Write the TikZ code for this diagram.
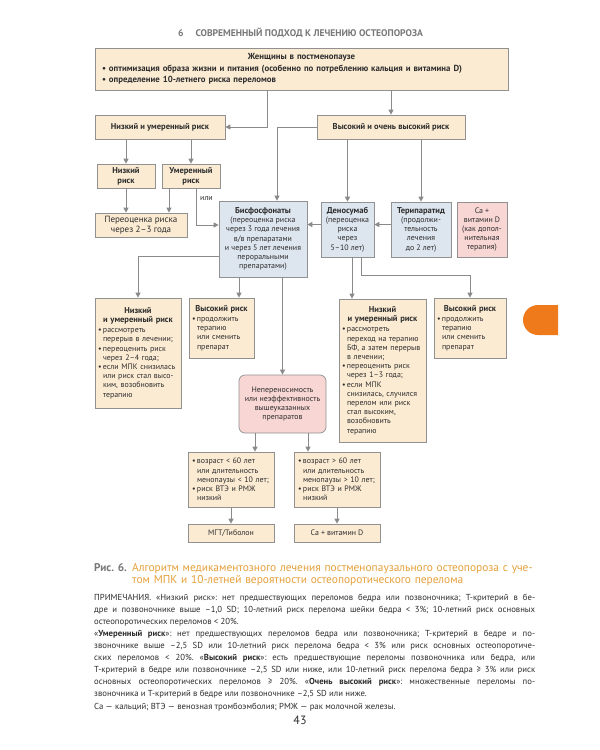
\documentclass[tikz,border=0pt]{standalone}
\usepackage{fontspec}
\setmainfont{PT Sans}
\usepackage{xcolor}
\usetikzlibrary{arrows.meta}

\definecolor{beige}{RGB}{251,235,211}
\definecolor{paleblue}{RGB}{221,229,238}
\definecolor{palepink}{RGB}{247,214,212}
\definecolor{linegray}{RGB}{145,145,145}
\definecolor{arrgray}{RGB}{138,138,138}
\definecolor{txt}{RGB}{45,45,45}
\definecolor{capgray}{RGB}{120,120,120}
\definecolor{caporange}{RGB}{229,160,58}
\definecolor{tabcol}{RGB}{238,122,27}

\newcommand{\boxtitle}{\fontsize{8.5}{10}\selectfont\bfseries}
\newcommand{\boxsmall}{\fontsize{7.9}{9.2}\selectfont}
\newcommand{\bul}{\makebox[5pt][l]{\textbullet}}
\newcommand{\ind}{\hspace*{5pt}}
\newcommand{\ttl}[1]{\makebox[\linewidth]{\boxtitle #1}}

\begin{document}
\begin{tikzpicture}[x=1pt,y=-1pt,
  box/.style={draw=linegray, fill=beige, line width=0.7pt, inner sep=0pt,
    align=center, text=txt, font=\boxsmall},
  bluebox/.style={box, fill=paleblue},
  pinkbox/.style={box, fill=palepink},
  listbox/.style={box, align=left, inner xsep=3pt},
  arr/.style={draw=arrgray, line width=1pt, -{Triangle[length=5pt,width=5pt]}}]

% Page
\useasboundingbox (0,0) rectangle (600,750);
\fill[white] (0,0) rectangle (600,750);
\node[font=\fontsize{9.6}{11}\selectfont\bfseries, text=capgray] (header) at (300.5,33)
  {6\hspace{12pt}СОВРЕМЕННЫЙ ПОДХОД К ЛЕЧЕНИЮ ОСТЕОПОРОЗА};

% Side tab
\fill[tabcol] (558,305) -- (538,305) arc[start angle=270,end angle=90,radius=15]
  -- (558,335) -- cycle;

% Start
\node[box, align=left, text width=399pt, inner xsep=7pt, minimum height=42pt,
  font=\fontsize{8.8}{11.5}\selectfont\bfseries] (women) at (301.5,69)
  {\makebox[\linewidth]{Женщины в постменопаузе}\\
   \makebox[7pt][l]{\textbullet}оптимизация образа жизни и питания (особенно по потреблению кальция и витамина D)\\
   \makebox[7pt][l]{\textbullet}определение 10-летнего риска переломов};

% Risk groups
\node[box, font=\boxtitle, minimum width=130pt, minimum height=24pt] (lowmod) at (160,127) {Низкий и умеренный риск};
\node[box, font=\boxtitle, minimum width=148pt, minimum height=24pt] (highrisk) at (391,127) {Высокий и очень высокий риск};
\node[box, font=\boxtitle, minimum width=58pt, minimum height=24pt] (low) at (126,176) {Низкий\\риск};
\node[box, font=\boxtitle, minimum width=58pt, minimum height=24pt] (moderate) at (191,176) {Умеренный\\риск};
\node[box, font=\fontsize{9}{10.5}\selectfont, minimum width=92pt, minimum height=24pt] (reassess) at (141,225)
  {Переоценка риска\\через 2–3 года};
\node[font=\boxsmall, text=txt, inner sep=0pt] (orlabel) at (206.5,199) {или};

% Drugs
\node[bluebox, minimum width=88pt, minimum height=76pt] (bisph) at (263,239)
  {{\boxtitle Бисфосфонаты}\\(переоценка риска\\через 3 года лечения\\в/в препаратами\\и через 5 лет лечения\\пероральными\\препаратами)};
\node[bluebox, minimum width=53pt, minimum height=55pt] (denos) at (347.5,229.5)
  {{\boxtitle Деносумаб}\\(переоценка\\риска\\через\\5–10 лет)};
\node[bluebox, minimum width=60pt, minimum height=55pt] (teri) at (421,229.5)
  {{\boxtitle Терипаратид}\\(продолжи-\\тельность\\лечения\\до 2 лет)};
\node[pinkbox, minimum width=50pt, minimum height=55pt] (cavd) at (482,229.5)
  {Ca +\\витамин D\\(как допол-\\нительная\\терапия)};

% After bisphosphonates
\node[listbox, text width=80pt, minimum height=110pt] (bflow) at (138,353)
  {\ttl{Низкий}\\ \ttl{и умеренный риск}\\[1pt]
   \bul рассмотреть\\ \ind перерыв в лечении;\\
   \bul переоценить риск\\ \ind через 2–4 года;\\
   \bul если МПК снизилась\\ \ind или риск стал высо-\\ \ind ким, возобновить\\ \ind терапию};
\node[listbox, text width=59pt, minimum height=60pt] (bfhigh) at (221.5,328)
  {\ttl{Высокий риск}\\[1pt]
   \bul продолжить\\ \ind терапию\\ \ind или сменить\\ \ind препарат};

% After denosumab
\node[listbox, text width=81pt, minimum height=143pt] (dlow) at (382.5,370.5)
  {\ttl{Низкий}\\ \ttl{и умеренный риск}\\[1pt]
   \bul рассмотреть\\ \ind переход на терапию\\ \ind БФ, а затем перерыв\\ \ind в лечении;\\
   \bul переоценить риск\\ \ind через 1–3 года;\\
   \bul если МПК\\ \ind снизилась, случился\\ \ind перелом или риск\\ \ind стал высоким,\\ \ind возобновить\\ \ind терапию};
\node[listbox, text width=66pt, minimum height=60pt] (dhigh) at (470,328)
  {\ttl{Высокий риск}\\[1pt]
   \bul продолжить\\ \ind терапию\\ \ind или сменить\\ \ind препарат};

% Intolerance
\node[pinkbox, rounded corners=6pt, minimum width=87pt, minimum height=58pt] (intoler) at (282.5,404)
  {Непереносимость\\или неэффективность\\вышеуказанных\\препаратов};
\node[listbox, text width=78pt, inner xsep=4pt, minimum height=55pt] (young) at (231,479.5)
  {\bul возраст < 60 лет\\ \ind или длительность\\ \ind менопаузы < 10 лет;\\ \bul риск ВТЭ и РМЖ\\ \ind низкий};
\node[listbox, text width=78pt, inner xsep=4pt, minimum height=55pt] (old) at (337,479.5)
  {\bul возраст > 60 лет\\ \ind или длительность\\ \ind менопаузы > 10 лет;\\ \bul риск ВТЭ и РМЖ\\ \ind низкий};
\node[box, minimum width=86pt, minimum height=18pt] (mht) at (231,533) {МГТ/Тиболон};
\node[box, minimum width=86pt, minimum height=18pt] (cavit) at (337,533) {Ca + витамин D};

% Connectors
\draw[arr] ([xshift=-34.5pt]women.south) |- (lowmod.east);
\draw[arr] (women.south -| highrisk.north) -- (highrisk.north);
\draw[arr] (lowmod.south -| low.north) -- (low.north);
\draw[arr] (lowmod.south -| moderate.north) -- (moderate.north);
\draw[arr] (low.south) -- (low.south |- reassess.north);
\draw[arr] ([xshift=-22pt]moderate.south) -- ([xshift=-22pt]moderate.south |- reassess.north);
\draw[arr] ([xshift=5pt]moderate.south) |- ([yshift=14pt]bisph.west);
\draw[arr] (highrisk.west) -| ([xshift=14pt]bisph.north);
\draw[arr] (highrisk.south -| denos.north) -- (denos.north);
\draw[arr] (highrisk.south -| teri.north) -- (teri.north);
\draw[arr] ([yshift=5pt]teri.west) -- ([yshift=5pt]denos.east);
\draw[arr] ([yshift=5pt]denos.west) -- ([yshift=5pt]denos.west -| bisph.east);
\draw[arr] ([yshift=-17pt]bisph.west) -| (bflow.north);
\draw[arr] ([xshift=-24pt]bisph.south) -- ([xshift=-24pt]bisph.south |- bfhigh.north);
\draw[arr] (bisph.south -| intoler.north) -- (intoler.north);
\draw[arr] ([xshift=4.5pt]denos.south) -- ([xshift=4.5pt]denos.south |- dlow.north);
\draw[arr] ([xshift=13.5pt]denos.south) -- ++(0,18) -| (dhigh.north);
\draw[arr] ([xshift=-27.5pt]intoler.south) -- ([xshift=-27.5pt]intoler.south |- young.north);
\draw[arr] ([xshift=25.5pt]intoler.south) -- ([xshift=25.5pt]intoler.south |- old.north);
\draw[arr] (young.south) -- (mht.north);
\draw[arr] (old.south) -- (cavit.north);

% Caption
\node[anchor=base west, inner sep=0pt, font=\fontsize{11.2}{12.5}\selectfont\bfseries, text=capgray] (fignum) at (94,571) {Рис. 6.};
\node[anchor=base west, inner sep=0pt, text width=404pt, align=left,
  font=\fontsize{11.4}{12.8}\selectfont, text=caporange] (caption) at (132,571)
  {Алгоритм медикаментозного лечения постменопаузального остеопороза с уче-\\том МПК и 10-летней вероятности остеопоротического перелома};

% Notes
\node[anchor=base west, inner sep=0pt, text width=441pt, align=justify,
  font=\fontsize{8.7}{12}\selectfont\frenchspacing, text=txt] (notes) at (94,600)
  {ПРИМЕЧАНИЯ. «Низкий риск»: нет предшествующих переломов бедра или позвоночника; Т-критерий в бе-\linebreak
   дре и позвоночнике выше –1,0 SD; 10-летний риск перелома шейки бедра < 3\%; 10-летний риск основных\linebreak
   остеопоротических переломов < 20\%.\par
   «\textbf{Умеренный риск}»: нет предшествующих переломов бедра или позвоночника; Т-критерий в бедре и по-\linebreak
   звоночнике выше –2,5 SD или 10-летний риск перелома бедра < 3\% или риск основных остеопоротиче-\linebreak
   ских переломов < 20\%. «\textbf{Высокий риск}»: есть предшествующие переломы позвоночника или бедра, или\linebreak
   Т-критерий в бедре или позвоночнике –2,5 SD или ниже, или 10-летний риск перелома бедра ≥ 3\% или риск\linebreak
   основных остеопоротических переломов ≥ 20\%. «\textbf{Очень высокий риск}»: множественные переломы по-\linebreak
   звоночника и Т-критерий в бедре или позвоночнике –2,5 SD или ниже.\par\vspace{1pt}
   Ca — кальций; ВТЭ — венозная тромбоэмболия; РМЖ — рак молочной железы.};
\node[font=\fontsize{12}{14}\selectfont, text=txt] (pagenum) at (300,720) {43};

\end{tikzpicture}
\end{document}
